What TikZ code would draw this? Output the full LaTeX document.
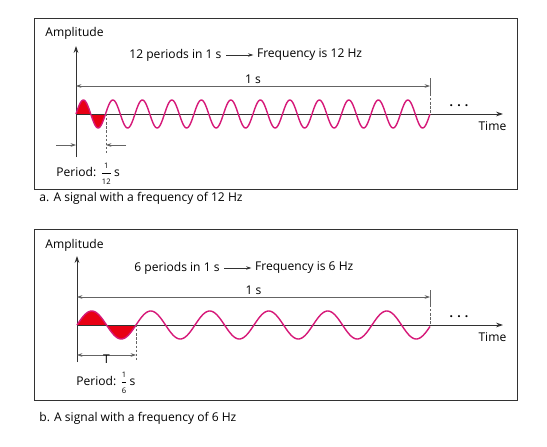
\documentclass[tikz,border=0pt]{standalone}
\usepackage{fontspec}
\setmainfont{Open Sans}
\usetikzlibrary{arrows.meta,positioning}
\definecolor{wavemag}{RGB}{214,24,120}
\definecolor{lobered}{RGB}{232,0,20}
\definecolor{axisgray}{RGB}{50,50,50}
\definecolor{dimgray}{RGB}{100,100,100}
\newcommand{\smallfrac}[2]{$\displaystyle\frac{\mbox{\fontsize{6.5}{6.5}\selectfont #1}}{\mbox{\fontsize{6.5}{6.5}\selectfont #2}}$}
\tikzset{
  lbl/.style={font=\fontsize{10.3}{12}\selectfont,inner sep=1pt},
  panel/.style={draw=axisgray,line width=0.6pt},
  axisln/.style={draw=axisgray,line width=0.7pt,-{Stealth[length=6pt,width=4pt]}},
  dimln/.style={draw=dimgray,line width=0.5pt},
  markln/.style={draw=dimgray,line width=0.6pt,dash pattern=on 2pt off 1.5pt},
  wave/.style={draw=wavemag,line width=1.2pt},
}

\begin{document}
\begin{tikzpicture}[x=0.03cm,y=-0.03cm,>={Stealth[length=4.5pt,width=3pt]}]
\useasboundingbox[fill=white] (0,0) rectangle (547,447);
\def\ka{12.2034} % degrees per px, 12 Hz
\def\kb{6.1017}  % degrees per px, 6 Hz
% panel a: 12 Hz
\draw[panel] (34,18) rectangle (517,189);
\node[lbl,anchor=west] (capA) at (38,198) {a. A signal with a frequency of 12 Hz};
\node[lbl,anchor=west] (ampA) at (44,33) {Amplitude};
\node[lbl,anchor=west] (perA) at (128,55) {12 periods in 1 s};
\node[lbl,right=28pt of perA] (freqA) {Frequency is 12 Hz};
\draw[->,axisgray,line width=0.6pt,shorten <=3pt,shorten >=2pt] (perA) -- (freqA);
\coordinate (oA) at (76,114); \coordinate (topA) at (76,46); \coordinate (botA) at (76,157); \coordinate (tipA) at (503,114);
\fill[lobered] plot[domain=0:29.5,samples=40] ({76+\x},{114-14*sin(\x*\ka)}) -- cycle;
\draw[axisln] (oA) -- (tipA); \draw[axisln] (botA) -- (topA);
\draw[wave] plot[domain=0:354,samples=400] ({76+\x},{114-14*sin(\x*\ka)});
\node[lbl,below left=5pt and -4pt of tipA] (timeA) {Time};
\node[lbl] (dotsA) at (459,106) {\textbf{. . .}};
\coordinate (sA) at (76,86); \coordinate (eA) at (430,86);
\draw[dimln,<->] (sA) -- (eA) node[lbl,midway,above=1pt] (oneA) {1 s};
\coordinate (mA) at (430,78); \coordinate (mmA) at (430,94); \coordinate (endA) at (430,114);
\draw[dimln] (mA) -- (mmA); \draw[markln] (mmA) -- (endA);
\coordinate (pA) at (106,114); \coordinate (pbA) at (106,153); \draw[markln] (pA) -- (pbA);
\coordinate (lA) at (56,145); \coordinate (laA) at (76,145); \draw[dimln,->] (lA) -- (laA);
\coordinate (rA) at (126,145); \coordinate (raA) at (106,145); \draw[dimln,->] (rA) -- (raA);
\node[lbl,anchor=west] (prdA) at (55,174) {Period: \smallfrac{1}{12}\,s};
% panel b: 6 Hz
\draw[panel] (34,229) rectangle (517,400);
\node[lbl,anchor=west] (capB) at (38,418) {b. A signal with a frequency of 6 Hz};
\node[lbl,anchor=west] (ampB) at (44,245) {Amplitude};
\node[lbl,anchor=west] (perB) at (133,268) {6 periods in 1 s};
\node[lbl,right=28pt of perB] (freqB) {Frequency is 6 Hz};
\draw[->,axisgray,line width=0.6pt,shorten <=3pt,shorten >=2pt] (perB) -- (freqB);
\coordinate (oB) at (77,325); \coordinate (topB) at (77,256); \coordinate (botB) at (77,362); \coordinate (tipB) at (503,325);
\fill[lobered] plot[domain=0:59,samples=60] ({77+\x},{325-14*sin(\x*\kb)}) -- cycle;
\draw[axisln] (oB) -- (tipB); \draw[axisln] (botB) -- (topB);
\draw[wave] plot[domain=0:353,samples=300] ({77+\x},{325-14*sin(\x*\kb)});
\node[lbl,below left=5pt and -4pt of tipB] (timeB) {Time};
\node[lbl] (dotsB) at (459,317) {\textbf{. . .}};
\coordinate (sB) at (77,297); \coordinate (eB) at (430,297);
\draw[dimln,<->] (sB) -- (eB) node[lbl,midway,above=1pt] (oneB) {1 s};
\coordinate (mB) at (430,290); \coordinate (mmB) at (430,305); \coordinate (endB) at (430,325);
\draw[dimln] (mB) -- (mmB); \draw[markln] (mmB) -- (endB);
\coordinate (pB) at (136,325); \coordinate (pbB) at (136,360); \draw[markln] (pB) -- (pbB);
\coordinate (lB) at (77,355); \coordinate (rB) at (136,355);
\draw[dimln,<->] (lB) -- (rB) node[lbl,midway,below=0pt,inner sep=0pt] (tB) {T};
\node[lbl,anchor=west] (prdB) at (75,383) {Period: \smallfrac{1}{6}\,s};
\end{tikzpicture}
\end{document}
